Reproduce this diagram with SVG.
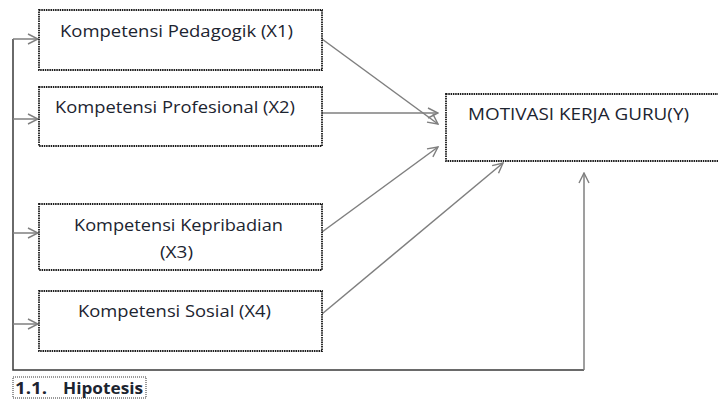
<svg xmlns="http://www.w3.org/2000/svg" width="718" height="399" viewBox="0 0 718 399">
<style>
.box{fill:#fff;stroke:#1a1a1a;stroke-width:1.8;stroke-dasharray:1.5 0.8}
.t{font-family:"Open Sans","Liberation Sans",sans-serif;font-size:16px;fill:#1c2430}
.h{font-family:"Open Sans","Liberation Sans",sans-serif;font-size:16px;font-weight:bold;fill:#1c2430}
.c{fill:none;stroke:#7f7f7f;stroke-width:1.5}
.trunk{fill:none;stroke:#3a3a3a;stroke-width:1.5}
</style>
<defs>
<marker id="ah" viewBox="0 0 12 12" refX="11" refY="6" markerWidth="12" markerHeight="12" markerUnits="userSpaceOnUse" orient="auto">
<path d="M1,1 L11,6 L1,11" fill="none" stroke="#7f7f7f" stroke-width="1.4"/>
</marker>
</defs>
<g id="connectors">
<path class="trunk" d="M13,39 V370 H584"/>
<path class="c" d="M584,370 V173" marker-end="url(#ah)"/>
<path class="c" d="M13,39 H38" marker-end="url(#ah)"/>
<path class="c" d="M13,119 H38" marker-end="url(#ah)"/>
<path class="c" d="M13,233 H38" marker-end="url(#ah)"/>
<path class="c" d="M13,324 H38" marker-end="url(#ah)"/>
<path class="c" d="M322,39 L438,124" marker-end="url(#ah)"/>
<path class="c" d="M322,113 H438" marker-end="url(#ah)"/>
<path class="c" d="M322,232 L438,147" marker-end="url(#ah)"/>
<path class="c" d="M322,314 L503,163" marker-end="url(#ah)"/>
</g>
<g id="x1">
<rect class="box" x="39" y="10" width="283" height="60"/>
<text class="t" x="60" y="37" textLength="233" lengthAdjust="spacingAndGlyphs">Kompetensi Pedagogik (X1)</text>
</g>
<g id="x2">
<rect class="box" x="39" y="87" width="283" height="59"/>
<text class="t" x="55" y="113" textLength="240" lengthAdjust="spacingAndGlyphs">Kompetensi Profesional (X2)</text>
</g>
<g id="x3">
<rect class="box" x="39" y="204" width="283" height="66"/>
<text class="t" x="74" y="231" textLength="209" lengthAdjust="spacingAndGlyphs">Kompetensi Kepribadian</text>
<text class="t" x="160" y="258" textLength="33" lengthAdjust="spacingAndGlyphs">(X3)</text>
</g>
<g id="x4">
<rect class="box" x="39" y="291" width="283" height="60"/>
<text class="t" x="78" y="317" textLength="193" lengthAdjust="spacingAndGlyphs">Kompetensi Sosial (X4)</text>
</g>
<g id="y">
<rect class="box" x="446" y="94" width="290" height="67"/>
<text class="t" x="468" y="120" textLength="221" lengthAdjust="spacingAndGlyphs">MOTIVASI KERJA GURU(Y)</text>
</g>
<g id="heading">
<rect x="13" y="377" width="133" height="21" fill="none" stroke="#333" stroke-width="1" stroke-dasharray="1 1"/>
<text class="h" x="15" y="394" textLength="32" lengthAdjust="spacingAndGlyphs">1.1.</text>
<text class="h" x="63" y="394" textLength="80" lengthAdjust="spacingAndGlyphs">Hipotesis</text>
</g>
</svg>
